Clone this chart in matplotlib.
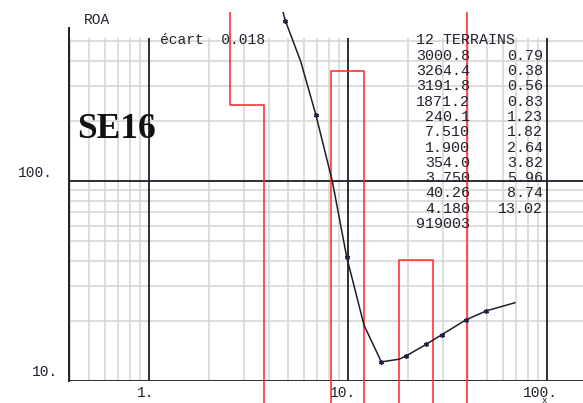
import numpy as np
import matplotlib
matplotlib.use("Agg")
import matplotlib.pyplot as plt
from matplotlib.transforms import Bbox, TransformedBbox

# Vertical electrical sounding SE16: AB/2 (m) against apparent resistivity (ohm.m)
ab2_obs = [4.84, 6.9, 9.85, 14.7, 19.6, 24.7, 29.6, 39.2, 49.6]
rho_obs = [635, 214, 41.8, 12.5, 13.4, 15.3, 17.1, 20.3, 22.5]

ab2_calc = [4.5, 4.84, 5.78, 6.9, 8.34, 9.85, 12.03, 14.7, 18.1, 19.6, 24.7,
            29.6, 39.2, 49.6, 69.0]
rho_calc = [830, 635, 398, 214, 100, 41.8, 19.1, 12.5, 12.9, 13.4, 15.3,
            17.1, 20.3, 22.5, 24.7]

# Inverted layered model (12 layers): resistivities and thicknesses
layer_rho = [3000.8, 3264.4, 3191.8, 1871.2, 240.1, 7.510, 1.900, 354.0,
             3.750, 40.26, 4.180, 919003]
layer_thk = [0.79, 0.38, 0.56, 0.83, 1.23, 1.82, 2.64, 3.82, 5.96, 8.74, 13.02]
fit_error = 0.018
station = "SE16"

x_ticks = [1, 10, 100]
x_tick_labels = ["1.", "10.", "100."]
y_ticks = [10, 100]
y_tick_labels = ["10.", "100."]

XLIM = (0.396, 151.7)
YLIM = (10, 520)

W, H = 583, 403
fig = plt.figure(figsize=(W / 100, H / 100), dpi=100)
fig.patch.set_facecolor("white")

# frame in pixel units: left 69, right 583, top 38, bottom 381.3
L, R, T, B = 69, 583, 38, 381.3
ax = fig.add_axes([L / W, 1 - B / H, (R - L) / W, (B - T) / H])
ax.set_xscale("log")
ax.set_yscale("log")
ax.set_xlim(*XLIM)
ax.set_ylim(*YLIM)
for s in ax.spines.values():
    s.set_visible(False)
ax.set_xticks([])
ax.set_yticks([])
ax.minorticks_off()
ax.patch.set_alpha(0)

grid_c = "#d4d4d4"
dark = "#1e1e28"
mono = "Liberation Mono"
txt_c = "#22222e"

# minor grid
xg = [m * 10.0 ** e for e in (-1, 0, 1) for m in range(2, 10)]
xg = [v for v in xg if XLIM[0] < v < XLIM[1]]
yg = [m * 10.0 ** e for e in (1, 2) for m in range(2, 10)]
yg = [v for v in yg if YLIM[0] < v < YLIM[1]]
ax.vlines(xg, YLIM[0], YLIM[1], colors=grid_c, lw=1.1, zorder=1)
ax.hlines(yg, XLIM[0], XLIM[1], colors=grid_c, lw=1.1, zorder=1)

# decade lines and axes
ax.vlines(x_ticks, YLIM[0], YLIM[1], colors=dark, lw=1.3, zorder=2)
ax.hlines(y_ticks, XLIM[0], XLIM[1], colors=dark, lw=1.3, zorder=2)
ax.plot([XLIM[0], XLIM[0]], [YLIM[0], 584], color=dark, lw=1.4,
        clip_on=False, zorder=2)

# drawing region for model and curve (extends beyond the grid frame)
clip = TransformedBbox(Bbox([[L / W, 0.0], [1.0, 1 - 12 / H]]), fig.transFigure)

# layered model as a step line
depth = np.concatenate([[0.05], np.cumsum(layer_thk), [1e4]])
xs, ys = [], []
for i, r in enumerate(layer_rho):
    xs += [depth[i], depth[i + 1]]
    ys += [r, r]
red, = ax.plot(xs, ys, color="#ff2a2a", lw=1.15, zorder=4)
red.set_clip_box(clip)

# computed sounding curve and measured points
curve, = ax.plot(ab2_calc, rho_calc, color=dark, lw=1.1, zorder=5)
curve.set_clip_box(clip)
pts, = ax.plot(ab2_obs, rho_obs, linestyle="none", marker=(6, 2, 0),
               markersize=3.5, markeredgewidth=1.0, color="#202040", zorder=6)
pts.set_clip_box(clip)


def fx(x):
    return x / W


def fy(y):
    return 1 - y / H


# tick labels
for v, lab in zip(x_ticks, x_tick_labels):
    ax.annotate(lab, xy=(v, YLIM[0]), xycoords="data",
                xytext=(-(2 * len(lab) - 1), -12), textcoords="offset pixels",
                ha="center", va="center", family=mono, fontsize=10.5,
                color=txt_c, annotation_clip=False)

y_lab_left = {"10.": 32, "100.": 18}
y_lab_dy = {"10.": 9.3, "100.": 8.3}
for v, lab in zip(y_ticks, y_tick_labels):
    ax.annotate(lab, xy=(y_lab_left[lab], v),
                xycoords=("figure pixels", "data"),
                xytext=(0, y_lab_dy[lab]), textcoords="offset pixels",
                ha="left", va="center", family=mono, fontsize=10.5,
                color=txt_c, annotation_clip=False)

fig.text(fx(84), fy(19.5), "ROA", ha="left", va="center", family=mono,
         fontsize=10.5, color=txt_c)
fig.text(fx(160), fy(40.5), f"écart  {fit_error:.3f}", ha="left", va="center",
         family=mono, fontsize=10.5, color=txt_c)
fig.text(fx(77), fy(130), station, ha="left", va="center",
         family="Liberation Serif", fontweight="bold", fontsize=25.5,
         color="#111111")


def fmt_rho(v):
    if v >= 100000:
        return f"{v:.0f}"
    if v >= 100:
        return f"{v:.1f}"
    if v >= 10:
        return f"{v:.2f}"
    return f"{v:.3f}"


fig.text(fx(415.5), fy(40), f"{len(layer_rho)} TERRAINS", ha="left",
         va="center", family=mono, fontsize=10.8, color=txt_c, zorder=3)
row0, dy = 55.7, 15.3
for i, r in enumerate(layer_rho):
    y = row0 + i * dy
    fig.text(fx(470), fy(y), fmt_rho(r), ha="right", va="center",
             family=mono, fontsize=10.8, color=txt_c, zorder=3)
    if i < len(layer_thk):
        fig.text(fx(543), fy(y), f"{layer_thk[i]:.2f}", ha="right",
                 va="center", family=mono, fontsize=10.8, color=txt_c, zorder=3)

# axis letter under the last decade
fig.text(fx(544), fy(400.5), "x", ha="center", va="center", family=mono,
         fontsize=6.5, color=txt_c)

fig.savefig("out.png", dpi=100, facecolor="white")
